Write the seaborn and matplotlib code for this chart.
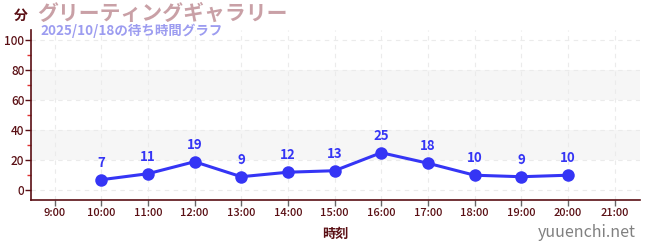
import matplotlib
matplotlib.use("Agg")
import matplotlib.pyplot as plt
import seaborn as sns
import pandas as pd
from matplotlib.ticker import MultipleLocator

hours = [10, 11, 12, 13, 14, 15, 16, 17, 18, 19, 20]
waits = [7, 11, 19, 9, 12, 13, 25, 18, 10, 9, 10]
tick_hours = list(range(9, 22))
tick_labels = [f"{h}:00" for h in tick_hours]
title = "グリーティングギャラリー"
subtitle = "2025/10/18の待ち時間グラフ"
ylabel = "分"
xlabel = "時刻"
site = "yuuenchi.net"

sns.set_theme(style="white")
plt.rcParams['font.family'] = ['Noto Sans CJK JP', 'DejaVu Sans']

df = pd.DataFrame({"hour": hours, "wait": waits})

fig = plt.figure(figsize=(6.5, 2.5), dpi=100)
ax = fig.add_axes([0.048, 0.2, 0.937, 0.68])

axis_col = "#5a0f14"
line_col = "#3535f5"

for lo, hi in [(20, 40), (60, 80)]:
    ax.axhspan(lo, hi, color="#f6f6f6", zorder=0, lw=0)

for h in tick_hours:
    ax.axvline(h, color="#ebebeb", lw=0.8, ls=(0, (4, 4)), zorder=0.5)
for y in range(0, 101, 20):
    ax.axhline(y, color="#ebebeb", lw=0.8, ls=(0, (4, 4)), zorder=0.5)

sns.lineplot(data=df, x="hour", y="wait", ax=ax, color=line_col, lw=2.2,
             marker="o", markersize=9, markeredgewidth=0, zorder=3)

for h, w in zip(hours, waits):
    ax.annotate(str(w), (h, w), xytext=(0, 7), textcoords="offset points",
                ha="center", va="bottom", color=line_col, fontsize=9.5,
                fontweight="bold")

ax.set_xlim(8.5, 21.55)
ax.set_ylim(-6.5, 106.7)
ax.set_xticks(tick_hours)
ax.set_xticklabels(tick_labels, fontsize=8, color=axis_col, fontweight="medium")
ax.set_yticks(range(0, 101, 20))
ax.set_yticklabels([str(v) for v in range(0, 101, 20)], fontsize=8.5, color=axis_col,
                   fontweight="medium")
ax.yaxis.set_minor_locator(MultipleLocator(10))
ax.tick_params(axis="y", which="major", length=4, width=1, color=axis_col, pad=1, left=True)
ax.tick_params(axis="y", which="minor", length=3, width=1, color="#e03030", left=True)
ax.tick_params(axis="x", which="major", length=4, width=1, color="#666666", pad=2, bottom=True)

for s in ["top", "right"]:
    ax.spines[s].set_visible(False)
for s in ["left", "bottom"]:
    ax.spines[s].set_color(axis_col)
    ax.spines[s].set_linewidth(1.2)

ax.set_xlabel(xlabel, fontsize=9.5, color=axis_col, fontweight="bold", labelpad=6)
ax.set_ylabel("")

fig.text(0.022, 0.935, ylabel, fontsize=10, color=axis_col, fontweight="bold",
         ha="left", va="center")
fig.text(0.057, 0.945, title, fontsize=15, color="#c9a0a6", fontweight="bold",
         ha="left", va="center")
fig.text(0.062, 0.875, subtitle, fontsize=9.7, color="#9c9cf0", fontweight="bold",
         ha="left", va="center")
fig.text(0.978, 0.07, site, fontsize=11.5, color="#808080", ha="right", va="center")

fig.savefig("out.png", dpi=100)
